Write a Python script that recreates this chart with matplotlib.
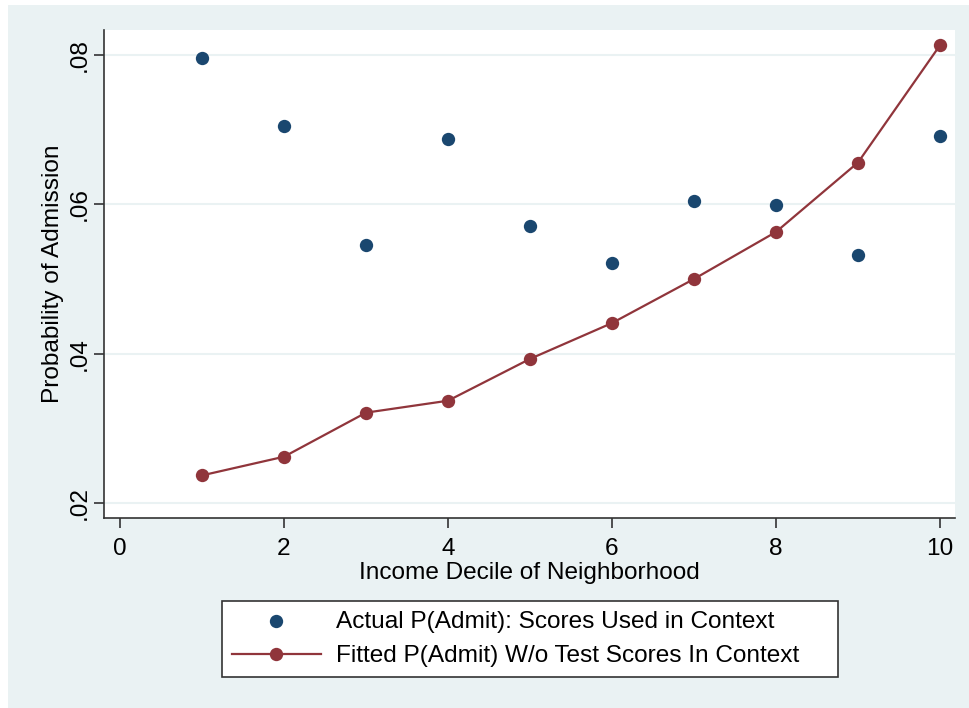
import matplotlib
matplotlib.use("Agg")
import matplotlib.pyplot as plt
from matplotlib.patches import Rectangle

plt.rcParams['font.family'] = ['Liberation Sans', 'DejaVu Sans']

deciles = [1, 2, 3, 4, 5, 6, 7, 8, 9, 10]
actual = [0.0796, 0.0705, 0.0545, 0.0688, 0.0571, 0.0522, 0.0604, 0.0599, 0.0532, 0.0692]
fitted = [0.0237, 0.0262, 0.0321, 0.0337, 0.0393, 0.0441, 0.0500, 0.0563, 0.0656, 0.0813]
xticks = [0, 2, 4, 6, 8, 10]
yticks = [0.02, 0.04, 0.06, 0.08]
ytick_labels = ['.02', '.04', '.06', '.08']

W, H = 969, 708
FS = 17.6
fig = plt.figure(figsize=(W / 100, H / 100), dpi=100, facecolor='white')
bg = '#EAF2F3'
fig.patches.append(Rectangle((8 / W, 0), 1 - 8 / W, 1 - 5 / H,
                             transform=fig.transFigure, facecolor=bg, edgecolor='none', zorder=-10))

ax = fig.add_axes([104 / W, 1 - 518 / H, (955 - 104) / W, (518 - 30) / H])
ax.set_facecolor('white')

blue = '#1A476F'
red = '#90353B'

ax.scatter(deciles, actual, s=92, color=blue, zorder=3, linewidths=0,
           label='Actual P(Admit): Scores Used in Context')
ax.plot(deciles, fitted, color=red, lw=1.6, marker='o', markersize=9.6, markeredgewidth=0,
        zorder=3, label='Fitted P(Admit) W/o Test Scores In Context')

x0 = 120; xu = 82.0
ax.set_xlim((104 - x0) / xu, (955 - x0) / xu)
ypx_per = 149.5 / 0.02
ax.set_ylim(0.02 - (518 - 503) / ypx_per, 0.08 + (55 - 30) / ypx_per)

ax.set_xticks(xticks)
ax.set_xticklabels([str(t) for t in xticks], fontsize=FS)
ax.set_yticks(yticks)
ax.set_yticklabels(ytick_labels, fontsize=FS, rotation=90, va='center')

for y in yticks:
    ax.axhline(y, color=bg, lw=1.5, zorder=0)

for s in ['top', 'right']:
    ax.spines[s].set_visible(False)
for s in ['left', 'bottom']:
    ax.spines[s].set_color('#333333')
    ax.spines[s].set_linewidth(1.2)

ax.tick_params(axis='both', direction='out', length=7.2, width=1.2, color='#333333')
ax.tick_params(axis='x', pad=7.5)
ax.tick_params(axis='y', pad=2)

ax.set_xlabel('Income Decile of Neighborhood', fontsize=FS)
ax.xaxis.set_label_coords(0.5, (518 - 562) / 488)
ax.set_ylabel('Probability of Admission', fontsize=FS)
ax.yaxis.set_label_coords((64 - 104) / 851, 0.5)

leg = fig.legend(loc='center left',
                 bbox_to_anchor=(222 / W, 1 - 678 / H, (838 - 222) / W, (678 - 600) / H),
                 mode='expand', ncol=1, fontsize=FS, frameon=True, fancybox=False,
                 edgecolor='#333333', framealpha=1, borderpad=0.4, handlelength=3.65,
                 handletextpad=0.6, labelspacing=0.52, borderaxespad=0)
leg.get_frame().set_linewidth(1.2)

fig.savefig('out.png', dpi=100, facecolor='white')
